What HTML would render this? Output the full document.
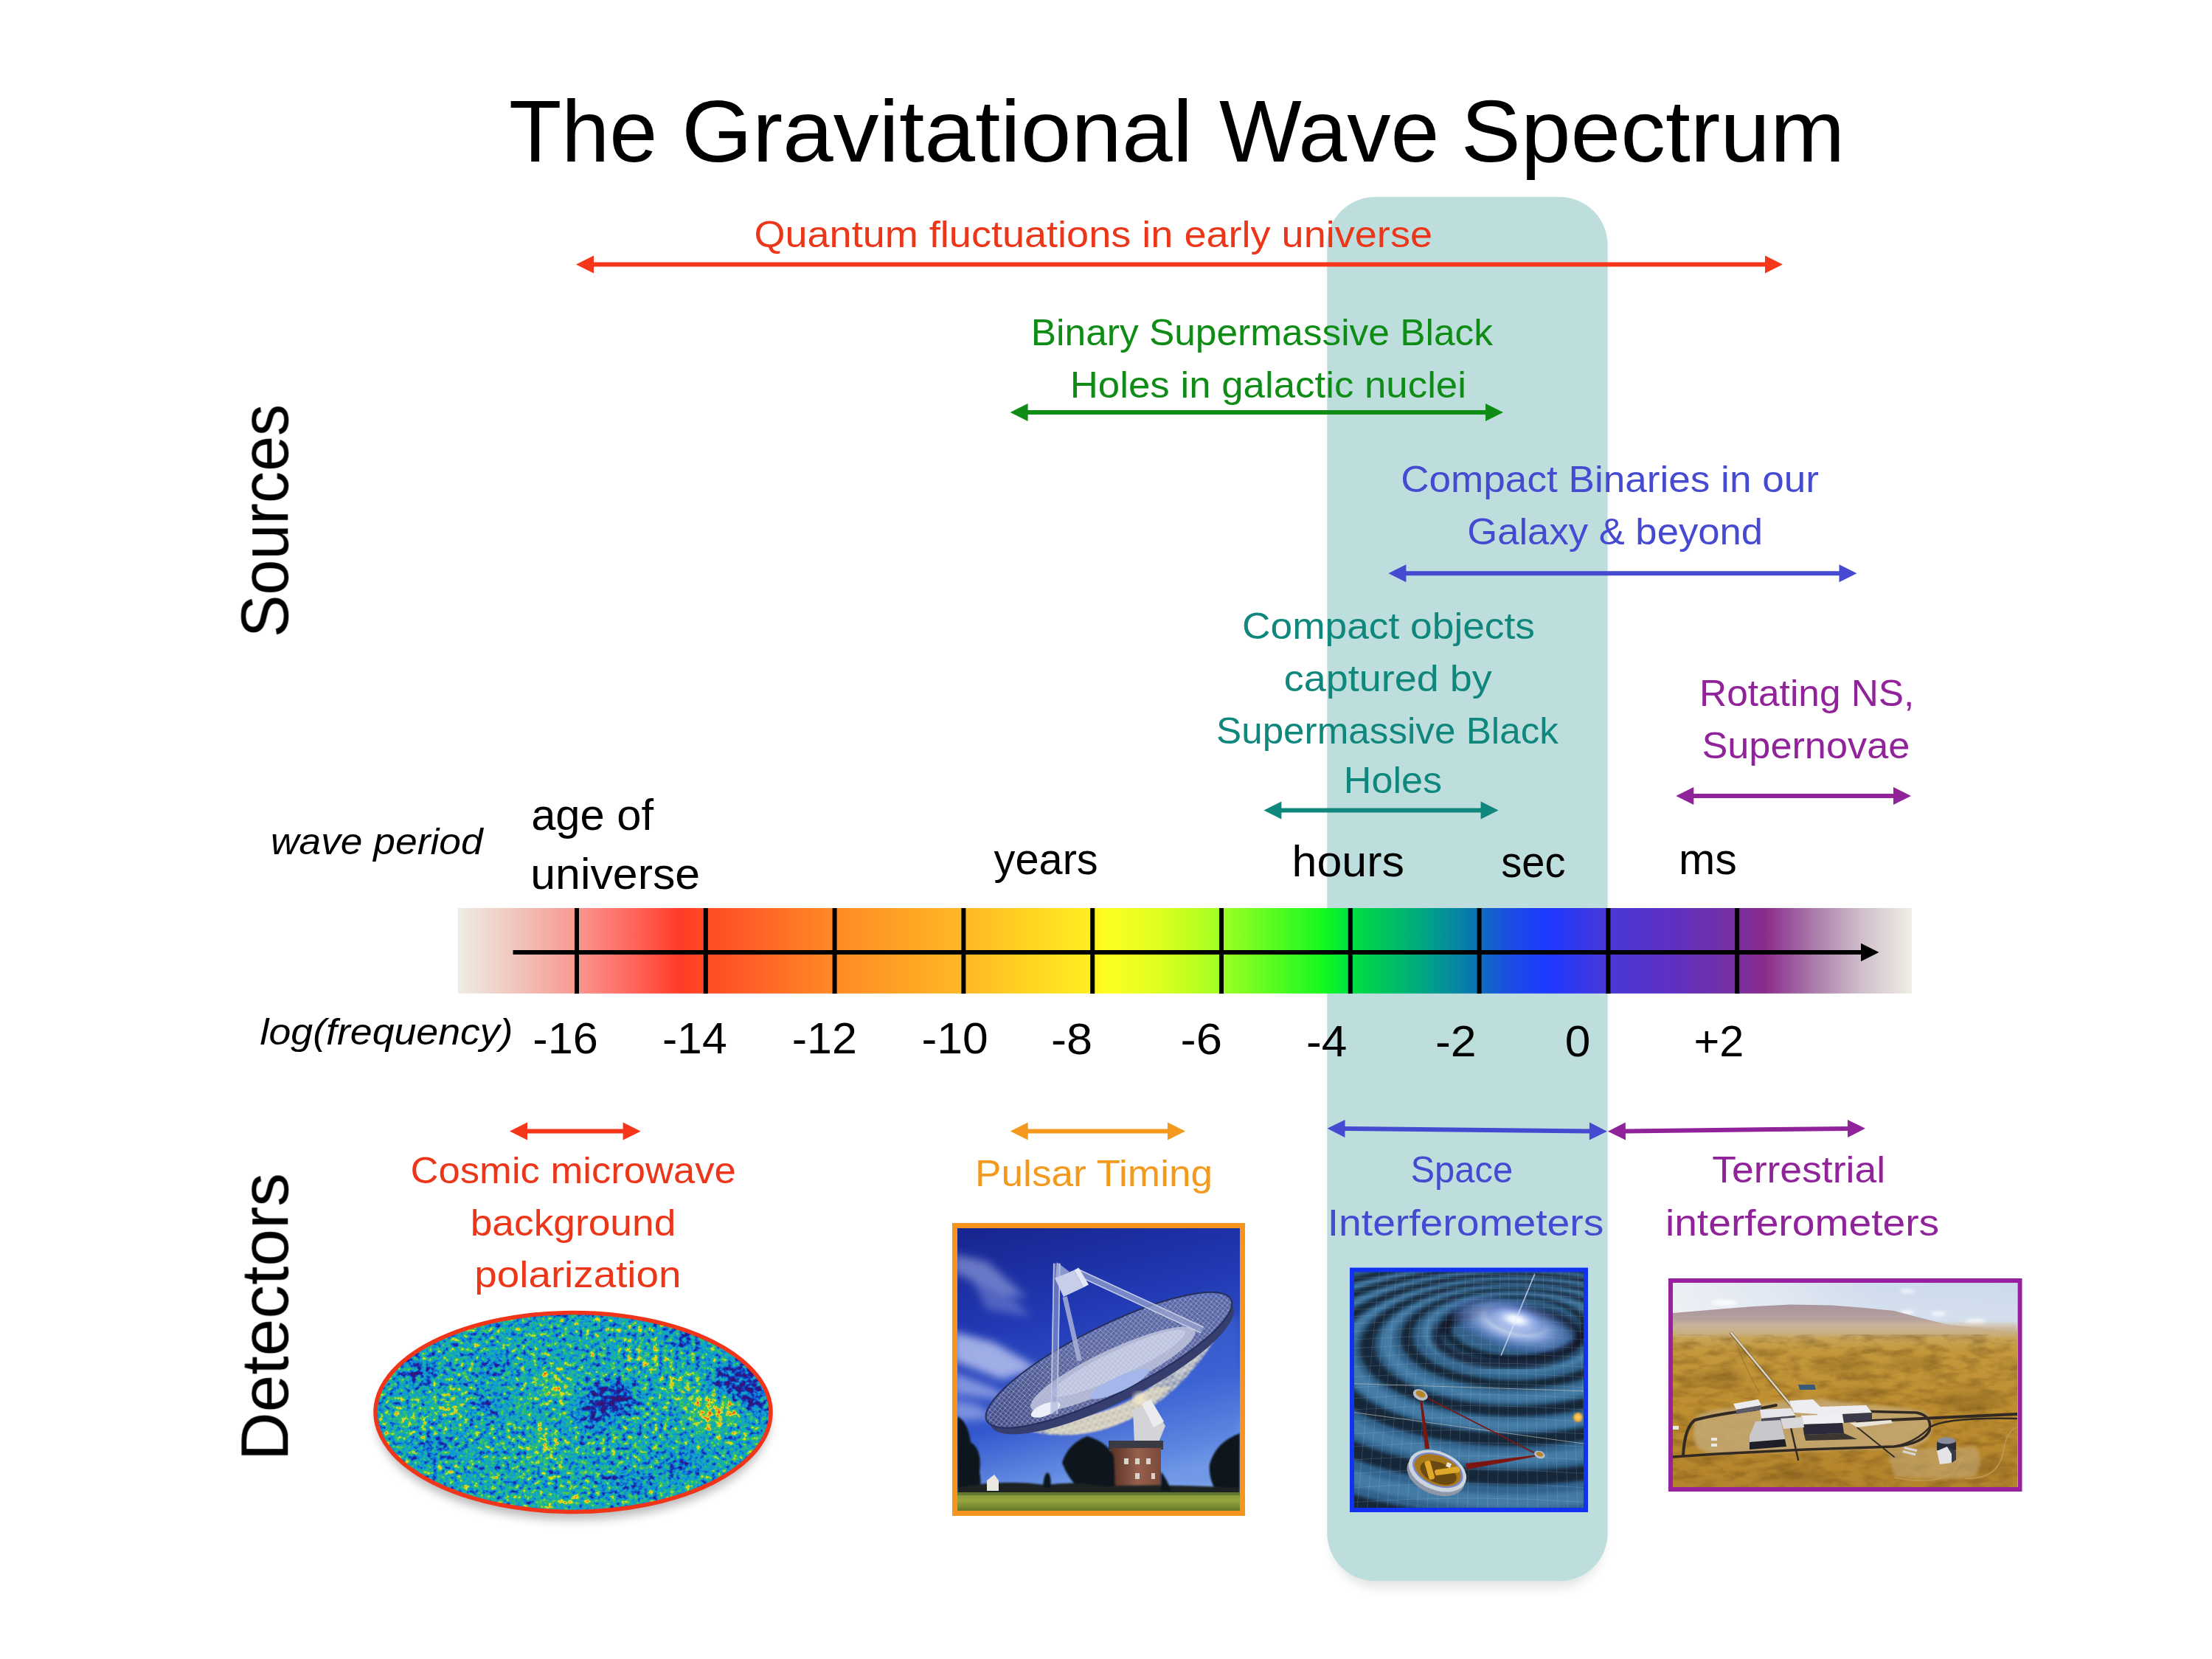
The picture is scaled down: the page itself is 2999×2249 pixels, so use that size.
<!DOCTYPE html>
<html>
<head>
<meta charset="utf-8">
<title>The Gravitational Wave Spectrum</title>
<style>
html,body{margin:0;padding:0;background:#fff;}
body{width:2999px;height:2249px;overflow:hidden;font-family:"Liberation Sans",sans-serif;}
svg{display:block;position:absolute;left:0;top:0;}
text{font-family:"Liberation Sans",sans-serif;white-space:pre;}
</style>
</head>
<body>
<svg width="2999" height="2249" viewBox="0 0 2999 2249">
<defs>
<linearGradient id="spec" x1="621" x2="2591" y1="0" y2="0" gradientUnits="userSpaceOnUse">
<stop offset="0" stop-color="#EEEDE4"/>
<stop offset="0.0406" stop-color="#F0C4BC"/>
<stop offset="0.0817" stop-color="#F89890"/>
<stop offset="0.1162" stop-color="#FF6A62"/>
<stop offset="0.1533" stop-color="#FF3B25"/>
<stop offset="0.1706" stop-color="#FF4A25"/>
<stop offset="0.2589" stop-color="#FF8A25"/>
<stop offset="0.3477" stop-color="#FFB825"/>
<stop offset="0.4365" stop-color="#FFF020"/>
<stop offset="0.4462" stop-color="#FFFF20"/>
<stop offset="0.4868" stop-color="#D8FF20"/>
<stop offset="0.5249" stop-color="#A0FF22"/>
<stop offset="0.5970" stop-color="#10F820"/>
<stop offset="0.6137" stop-color="#00E040"/>
<stop offset="0.6624" stop-color="#00A880"/>
<stop offset="0.6975" stop-color="#0878B0"/>
<stop offset="0.7208" stop-color="#1A50E0"/>
<stop offset="0.7513" stop-color="#1E38FF"/>
<stop offset="0.7911" stop-color="#4838D8"/>
<stop offset="0.8381" stop-color="#6030C0"/>
<stop offset="0.8801" stop-color="#7830A0"/>
<stop offset="0.8988" stop-color="#8A2A8C"/>
<stop offset="0.9315" stop-color="#A878A8"/>
<stop offset="0.9665" stop-color="#D0C0CC"/>
<stop offset="1" stop-color="#EEEDE4"/>
</linearGradient>
<filter id="soft" x="-10%" y="-10%" width="120%" height="120%"><feGaussianBlur stdDeviation="7"/></filter>
</defs>
<!-- highlighted band -->
<rect x="1805" y="280" width="369" height="1873" rx="62" ry="62" fill="#4a5a58" opacity="0.15" filter="url(#soft)"/>
<rect x="1799.3" y="267" width="380.3" height="1876.3" rx="65" ry="65" fill="#BDDEDC"/>
<!-- spectrum bar -->
<rect x="621" y="1231" width="1970.8" height="115.8" fill="url(#spec)"/>
<g fill="#000">
<rect x="779" y="1231" width="6" height="116"/>
<rect x="953.8" y="1231" width="6" height="116"/>
<rect x="1128.6" y="1231" width="6" height="116"/>
<rect x="1303.4" y="1231" width="6" height="116"/>
<rect x="1478.2" y="1231" width="6" height="116"/>
<rect x="1653" y="1231" width="6" height="116"/>
<rect x="1827.8" y="1231" width="6" height="116"/>
<rect x="2002.6" y="1231" width="6" height="116"/>
<rect x="2177.4" y="1231" width="6" height="116"/>
<rect x="2352.2" y="1231" width="6" height="116"/>
<rect x="695.5" y="1288" width="1830" height="6"/>
<polygon points="2547.5,1291 2523,1278.8 2523,1303.2"/>
</g>
<!-- CMB sky map -->
<defs>
<filter id="cmbf" x="0" y="0" width="100%" height="100%" color-interpolation-filters="sRGB">
<feTurbulence type="fractalNoise" baseFrequency="0.14 0.15" numOctaves="3" seed="11" result="n"/>
<feColorMatrix in="n" type="matrix" values="1.25 0 0 0 -0.125  1.25 0 0 0 -0.125  1.25 0 0 0 -0.125  0 0 0 0 1" result="g"/>
<feGaussianBlur in="SourceGraphic" stdDeviation="10" result="sb"/>
<feComposite in="g" in2="sb" operator="arithmetic" k1="0" k2="0.9" k3="1.15" k4="-0.525" result="m"/>
<feComponentTransfer in="m" result="c">
<feFuncR type="table" tableValues="0.22 0.16 0.08 0.06 0.06 0.08 0.12 0.30 0.90 0.95 0.90"/>
<feFuncG type="table" tableValues="0.08 0.10 0.20 0.40 0.58 0.66 0.72 0.78 0.90 0.65 0.30"/>
<feFuncB type="table" tableValues="0.45 0.55 0.70 0.82 0.84 0.76 0.50 0.35 0.15 0.12 0.10"/>
<feFuncA type="linear" slope="0" intercept="1"/>
</feComponentTransfer>
</filter>
<clipPath id="cmbclip"><ellipse cx="777" cy="1914.5" rx="268" ry="135"/></clipPath>
<filter id="cmbsh" x="-20%" y="-20%" width="140%" height="150%"><feGaussianBlur stdDeviation="7"/></filter>
</defs>
<ellipse cx="777" cy="1926" rx="266" ry="134" fill="#000" opacity="0.28" filter="url(#cmbsh)"/>
<g clip-path="url(#cmbclip)">
<g filter="url(#cmbf)">
<rect x="500" y="1770" width="556" height="290" fill="#808080"/>
<!-- large-scale cold (dark) and warm (light) regions -->
<ellipse cx="827" cy="1897" rx="34" ry="22" fill="#303030"/>
<ellipse cx="800" cy="1925" rx="20" ry="14" fill="#484848"/>
<ellipse cx="1000" cy="1872" rx="34" ry="22" fill="#3a3a3a"/>
<ellipse cx="1020" cy="1896" rx="16" ry="20" fill="#303030"/>
<ellipse cx="568" cy="1860" rx="24" ry="14" fill="#404040"/>
<ellipse cx="668" cy="1852" rx="18" ry="12" fill="#484848"/>
<ellipse cx="660" cy="1905" rx="20" ry="14" fill="#505050"/>
<ellipse cx="930" cy="1815" rx="30" ry="10" fill="#484848"/>
<ellipse cx="925" cy="1985" rx="28" ry="12" fill="#4c4c4c"/>
<ellipse cx="850" cy="2010" rx="40" ry="12" fill="#585858"/>
<ellipse cx="590" cy="1965" rx="30" ry="12" fill="#585858"/>
<ellipse cx="968" cy="1913" rx="34" ry="22" fill="#b8b8b8"/>
<ellipse cx="920" cy="1880" rx="18" ry="12" fill="#b0b0b0"/>
<ellipse cx="750" cy="1880" rx="22" ry="22" fill="#a4a4a4"/>
<ellipse cx="610" cy="1905" rx="22" ry="14" fill="#a8a8a8"/>
<ellipse cx="548" cy="1925" rx="18" ry="14" fill="#a4a4a4"/>
<ellipse cx="740" cy="1960" rx="22" ry="20" fill="#a0a0a0"/>
<ellipse cx="880" cy="1840" rx="24" ry="12" fill="#a0a0a0"/>
<ellipse cx="760" cy="2035" rx="40" ry="8" fill="#a0a0a0"/>
</g>
</g>
<ellipse cx="777" cy="1914.5" rx="268" ry="135" fill="none" stroke="#F0351A" stroke-width="5.5"/>
<!-- Radio telescope photo (Pulsar timing) -->
<defs>
<linearGradient id="dsky" x1="0" y1="0" x2="0.25" y2="1">
<stop offset="0" stop-color="#18248E"/>
<stop offset="0.35" stop-color="#2038B2"/>
<stop offset="0.7" stop-color="#3458CE"/>
<stop offset="0.92" stop-color="#6890E4"/>
<stop offset="1" stop-color="#86ACEC"/>
</linearGradient>
<linearGradient id="dgrass" x1="0" y1="0" x2="0" y2="1">
<stop offset="0" stop-color="#7E9238"/>
<stop offset="0.45" stop-color="#98A63E"/>
<stop offset="1" stop-color="#66782A"/>
</linearGradient>
<linearGradient id="dbrick" x1="0" y1="0" x2="1" y2="0">
<stop offset="0" stop-color="#5A3228"/>
<stop offset="0.55" stop-color="#96604C"/>
<stop offset="1" stop-color="#7A4A3A"/>
</linearGradient>
<linearGradient id="dmesh" x1="0" y1="0" x2="1" y2="0">
<stop offset="0" stop-color="#454F88"/>
<stop offset="0.45" stop-color="#6470A8"/>
<stop offset="1" stop-color="#5E6CAC"/>
</linearGradient>
<pattern id="dlat" width="7" height="7" patternUnits="userSpaceOnUse" patternTransform="rotate(20)"><path d="M0 0L7 7M7 0L0 7" stroke="#B4BCDC" stroke-width="0.9" opacity="0.75"/></pattern>
<pattern id="dlat2" width="9" height="9" patternUnits="userSpaceOnUse" patternTransform="rotate(-15)"><path d="M0 0L9 9M9 0L0 9M0 4.500L9 4.500" stroke="#F0ECDC" stroke-width="1.1" opacity="0.85"/></pattern>
<pattern id="dlat3" width="5" height="5" patternUnits="userSpaceOnUse" patternTransform="rotate(-25)"><path d="M0 0L0 5M0 0L5 0" stroke="#8890B4" stroke-width="0.7" opacity="0.6"/></pattern>
<filter id="db3"><feGaussianBlur stdDeviation="3"/></filter>
<filter id="db6"><feGaussianBlur stdDeviation="6"/></filter>
<filter id="db1"><feGaussianBlur stdDeviation="0.8"/></filter>
<clipPath id="dclip"><rect x="0" y="0" width="383" height="383"/></clipPath>
</defs>
<svg x="1298" y="1665" width="383" height="383" viewBox="0 0 383 383" overflow="hidden">
<g clip-path="url(#dclip)">
<rect width="383" height="383" fill="url(#dsky)"/>
<!-- right side a little lighter -->
<rect x="250" y="120" width="133" height="230" fill="#4C74DC" opacity="0.35" filter="url(#db6)"/>
<!-- wispy clouds -->
<g filter="url(#db6)" fill="#C8D2F4">
<path d="M-5 35 L40 45 L95 95 L60 88 L-5 60Z" opacity="0.45"/>
<path d="M-5 140 L50 155 L110 190 L60 205 L-5 180Z" opacity="0.75"/>
<path d="M-5 195 L45 215 L80 235 L-5 225Z" opacity="0.55"/>
<path d="M-5 232 L30 240 L50 258 L-5 262Z" opacity="0.5"/>
<path d="M20 70 L70 90 L100 120 L40 110Z" opacity="0.3"/>
</g>
<!-- support truss under dish -->
<g filter="url(#db1)">
<path d="M72 268 Q150 296 228 262 Q310 226 366 122 L356 112 Q300 200 222 240 Q150 268 82 262Z" fill="#8C94AE" opacity="0.9"/>
<path d="M118 276 Q172 288 226 262 Q262 244 290 214 L262 216 Q216 250 132 264Z" fill="#CFC8B4" opacity="0.85"/>
<path d="M300 204 Q340 168 364 124 L358 118 Q330 166 292 200Z" fill="#B8BCC8" opacity="0.7"/>
<path d="M72 268 Q150 296 228 262 Q310 226 366 122 L356 112 Q300 200 222 240 Q150 268 82 262Z" fill="url(#dlat2)"/>
</g>
<!-- dish -->
<g transform="translate(209.5 187) rotate(-26.4)">
<ellipse cx="0" cy="0" rx="183" ry="49" fill="#363E6E"/>
</g>
<g transform="translate(205.4 178.8) rotate(-26.4)">
<ellipse cx="0" cy="0" rx="184.8" ry="46" fill="url(#dmesh)" opacity="0.86"/>
<ellipse cx="0" cy="0" rx="184.8" ry="46" fill="url(#dlat)"/>
<ellipse cx="0" cy="0" rx="184.8" ry="46" fill="none" stroke="#262E5C" stroke-width="2"/>
</g>
<g transform="translate(210.8 191) rotate(-25.3)">
<ellipse cx="0" cy="0" rx="123" ry="26" fill="#B6BCD8"/>
<ellipse cx="10" cy="-4" rx="100" ry="17" fill="#C8CEE6"/>
<ellipse cx="0" cy="0" rx="123" ry="26" fill="url(#dlat3)"/>
</g>
<g transform="translate(220 211) rotate(-25)"><ellipse cx="0" cy="0" rx="44" ry="10" fill="#A4B6EA"/></g>
<g transform="translate(119.5 246) rotate(-22)"><ellipse cx="0" cy="0" rx="21" ry="8" fill="#ECEEF8"/></g>
<circle cx="247" cy="231" r="9" fill="#F4E8C8" opacity="0.85" filter="url(#db3)"/>
<!-- feed legs -->
<g stroke-linecap="butt" fill="none">
<line x1="134.9" y1="47.7" x2="131.2" y2="252" stroke="#9AA6D0" stroke-width="10" opacity="0.55"/>
<line x1="130.9" y1="47.7" x2="127.200" y2="252" stroke="#C4CCE8" stroke-width="1.6" opacity="0.9"/>
<line x1="138.9" y1="47.7" x2="135.200" y2="252" stroke="#C4CCE8" stroke-width="1.6" opacity="0.9"/>
<line x1="145.7" y1="92.9" x2="165.6" y2="179.7" stroke="#A8B2D8" stroke-width="6.5" opacity="0.85"/>
<line x1="163.8" y1="60.3" x2="332" y2="138" stroke="#9CA8D2" stroke-width="9" opacity="0.7"/>
<line x1="165.600" y1="56.500" x2="334" y2="134.200" stroke="#CDD4EC" stroke-width="1.6" opacity="0.9"/>
<line x1="162" y1="64.100" x2="330" y2="141.800" stroke="#CDD4EC" stroke-width="1.6" opacity="0.9"/>
</g>
<!-- focus cabin -->
<polygon points="132,67.5 158.4,56.7 171,80.2 143.9,92.9" fill="#C6CEE8"/>
<polygon points="158.4,56.7 164.500,53.500 178,76.500 171,80.2" fill="#E4E8F4"/>
<polygon points="134.9,46 133,68 152,59" fill="#AEB8DC" opacity="0.75"/>
<!-- tower -->
<polygon points="238,246 262,236 282,268 272,292 240,292" fill="#D4D4D8"/>
<polygon points="250,238 262,232 280,262 266,270" fill="#ECECEE"/>
<rect x="205" y="288" width="74" height="12" fill="#3A3A44"/>
<rect x="208" y="298" width="68" height="58" fill="url(#dbrick)"/>
<g fill="#D8D4CC"><rect x="226" y="312" width="6" height="8"/><rect x="241" y="312" width="6" height="8"/><rect x="256" y="312" width="6" height="8"/><rect x="241" y="332" width="6" height="8"/><rect x="263" y="332" width="5" height="8"/></g>
<!-- trees -->
<g fill="#0E161A" filter="url(#db1)">
<path d="M0 255 Q14 262 18 290 Q34 300 30 330 Q34 350 28 360 L0 360Z"/>
<path d="M142 318 Q150 292 176 282 Q204 290 212 310 L214 356 L168 356 Q150 340 142 318Z"/>
<path d="M342 320 Q350 290 383 278 L383 358 L352 358 Q340 340 342 318Z"/>
<path d="M0 352 Q60 340 120 348 Q160 342 200 350 Q280 346 383 352 L383 362 L0 362Z" fill="#1A2420"/>
<path d="M116 350 Q118 328 124 332 Q128 340 126 352Z"/>
<path d="M276 330 Q284 340 290 356 L276 356Z"/>
</g>
<polygon points="40,342 50,334 56,342 56,356 40,356" fill="#E8E8E0"/>
<!-- grass -->
<rect x="0" y="358" width="383" height="25" fill="url(#dgrass)"/>
<rect x="0" y="358" width="383" height="4" fill="#50642A" opacity="0.6"/>
</g>
</svg>
<rect x="1294.5" y="1661.5" width="390" height="390" fill="none" stroke="#F7941D" stroke-width="7"/>
<!-- Space interferometer illustration -->
<defs>
<radialGradient id="lglow" cx="0.5" cy="0.5" r="0.5"><stop offset="0" stop-color="#FFFFFF"/><stop offset="0.2" stop-color="#EEF4FF" stop-opacity="0.95"/><stop offset="0.5" stop-color="#9CB4EC" stop-opacity="0.8"/><stop offset="0.82" stop-color="#5C7CCC" stop-opacity="0.4"/><stop offset="1" stop-color="#4060B0" stop-opacity="0"/></radialGradient>
<radialGradient id="lsun" cx="0.5" cy="0.5" r="0.5"><stop offset="0" stop-color="#FFD870"/><stop offset="0.6" stop-color="#F0B040"/><stop offset="1" stop-color="#D09030" stop-opacity="0.3"/></radialGradient>
<linearGradient id="lbase" x1="0" y1="0" x2="0" y2="1"><stop offset="0" stop-color="#2F5B80"/><stop offset="0.5" stop-color="#356890"/><stop offset="1" stop-color="#31628C"/></linearGradient>
<filter id="lb2"><feGaussianBlur stdDeviation="2.4"/></filter>
<filter id="lb4"><feGaussianBlur stdDeviation="3.6"/></filter>
<filter id="lb4d"><feGaussianBlur stdDeviation="3.4 2.2"/></filter>
<filter id="lb1"><feGaussianBlur stdDeviation="0.7"/></filter>
<clipPath id="lclip"><rect x="0" y="0" width="311" height="320"/></clipPath>
</defs>
<svg x="1836" y="1724" width="311" height="320" viewBox="0 0 311 320" overflow="hidden">
<g clip-path="url(#lclip)">
<rect width="311" height="320" fill="url(#lbase)"/>
<g fill="#4C84AE" fill-rule="evenodd" opacity="0.75" filter="url(#lb2)"><path d="M91.9 83.0A127.1 55.3 0 1 0 346.1 83.0A127.1 55.3 0 1 0 91.9 83.0ZM103.5 80.9A115.5 50.2 0 1 0 334.5 80.9A115.5 50.2 0 1 0 103.5 80.9ZM36.7 96.4A182.3 79.3 0 1 0 401.3 96.4A182.3 79.3 0 1 0 36.7 96.4ZM51.7 93.0A167.3 72.7 0 1 0 386.3 93.0A167.3 72.7 0 1 0 51.7 93.0ZM-19.6 110.7A238.6 103.8 0 1 0 457.6 110.7A238.6 103.8 0 1 0 -19.6 110.7ZM-1.2 106.2A220.2 95.7 0 1 0 439.2 106.2A220.2 95.7 0 1 0 -1.2 106.2ZM-84.6 128.9A303.6 132.0 0 1 0 522.6 128.9A303.6 132.0 0 1 0 -84.6 128.9ZM-62.8 123.0A281.8 122.5 0 1 0 500.8 123.0A281.8 122.5 0 1 0 -62.8 123.0ZM-163.9 153.2A382.9 166.5 0 1 0 601.9 153.2A382.9 166.5 0 1 0 -163.9 153.2ZM-138.7 146.2A357.7 155.5 0 1 0 576.7 146.2A357.7 155.5 0 1 0 -138.7 146.2Z"/></g>
<g fill="#0A1422" fill-rule="evenodd" opacity="0.78" filter="url(#lb4d)"><path d="M118.3 76.9A100.7 43.8 0 1 0 319.7 76.9A100.7 43.8 0 1 0 118.3 76.9ZM131.1 74.5A87.9 38.2 0 1 0 306.9 74.5A87.9 38.2 0 1 0 131.1 74.5ZM62.3 90.1A156.7 68.1 0 1 0 375.7 90.1A156.7 68.1 0 1 0 62.3 90.1ZM79.0 86.3A140.0 60.9 0 1 0 359.0 86.3A140.0 60.9 0 1 0 79.0 86.3ZM7.5 103.8A211.5 91.9 0 1 0 430.5 103.8A211.5 91.9 0 1 0 7.5 103.8ZM28.0 98.6A191.0 83.0 0 1 0 410.0 98.6A191.0 83.0 0 1 0 28.0 98.6ZM-50.7 118.9A269.7 117.3 0 1 0 488.7 118.9A269.7 117.3 0 1 0 -50.7 118.9ZM-26.5 112.5A245.5 106.7 0 1 0 464.5 112.5A245.5 106.7 0 1 0 -26.5 112.5ZM-122.8 140.1A341.8 148.6 0 1 0 560.8 140.1A341.8 148.6 0 1 0 -122.8 140.1ZM-94.7 132.3A313.7 136.4 0 1 0 532.7 132.3A313.7 136.4 0 1 0 -94.7 132.3ZM-209.8 167.8A428.8 186.4 0 1 0 647.8 167.8A428.8 186.4 0 1 0 -209.8 167.8ZM-177.9 158.6A396.9 172.6 0 1 0 615.9 158.6A396.9 172.6 0 1 0 -177.9 158.6Z"/></g>
<ellipse cx="209" cy="88.7" rx="96" ry="36" fill="none" stroke="#08101C" stroke-width="14" opacity="0.7" filter="url(#lb4)"/>
<g fill="none" stroke="#B8D0E4" stroke-width="0.7" opacity="0.26"><path d="M34.1 0 Q19.0 160 4.0 320"/><path d="M45.8 0 Q31.7 160 17.6 320"/><path d="M57.5 0 Q44.3 160 31.2 320"/><path d="M69.2 0 Q57.0 160 44.8 320"/><path d="M80.9 0 Q69.6 160 58.4 320"/><path d="M92.6 0 Q82.3 160 72.0 320"/><path d="M104.3 0 Q94.9 160 85.6 320"/><path d="M116.0 0 Q107.6 160 99.2 320"/><path d="M127.7 0 Q120.2 160 112.8 320"/><path d="M139.4 0 Q132.9 160 126.4 320"/><path d="M151.1 0 Q145.5 160 140.0 320"/><path d="M162.8 0 Q158.2 160 153.6 320"/><path d="M174.5 0 Q170.8 160 167.2 320"/><path d="M186.1 0 Q183.5 160 180.8 320"/><path d="M197.8 0 Q196.1 160 194.4 320"/><path d="M209.5 0 Q208.8 160 208.0 320"/><path d="M221.2 0 Q221.4 160 221.6 320"/><path d="M232.9 0 Q234.1 160 235.2 320"/><path d="M244.6 0 Q246.7 160 248.8 320"/><path d="M256.3 0 Q259.4 160 262.4 320"/><path d="M268.0 0 Q272.0 160 276.0 320"/><path d="M279.7 0 Q284.7 160 289.6 320"/><path d="M291.4 0 Q297.3 160 303.2 320"/><path d="M303.1 0 Q310.0 160 316.8 320"/><path d="M0 9.0 Q155 -2.0 311 9.0"/><path d="M0 14.5 Q155 3.5 311 14.5"/><path d="M0 20.6 Q155 9.6 311 20.6"/><path d="M0 27.4 Q155 16.4 311 27.4"/><path d="M0 34.8 Q155 23.8 311 34.8"/><path d="M0 42.8 Q155 31.8 311 42.8"/><path d="M0 51.4 Q155 40.4 311 51.4"/><path d="M0 60.6 Q155 49.6 311 60.6"/><path d="M0 70.4 Q155 59.4 311 70.4"/><path d="M0 80.9 Q155 69.9 311 80.9"/><path d="M0 92.0 Q155 81.0 311 92.0"/><path d="M0 103.7 Q155 92.7 311 103.7"/><path d="M0 116.0 Q155 105.0 311 116.0"/><path d="M0 129.0 Q155 118.0 311 129.0"/><path d="M0 142.6 Q155 131.6 311 142.6"/><path d="M0 156.8 Q155 145.8 311 156.8"/><path d="M0 171.6 Q155 160.6 311 171.6"/><path d="M0 187.0 Q155 176.0 311 187.0"/><path d="M0 203.0 Q155 192.0 311 203.0"/><path d="M0 219.7 Q155 208.7 311 219.7"/><path d="M0 237.0 Q155 226.0 311 237.0"/><path d="M0 254.9 Q155 243.9 311 254.9"/><path d="M0 273.4 Q155 262.4 311 273.4"/><path d="M0 292.6 Q155 281.6 311 292.6"/><path d="M0 312.4 Q155 301.4 311 312.4"/></g>
<g transform="translate(219 64.7) rotate(14)"><ellipse cx="-2" cy="8" rx="92" ry="36" fill="url(#lglow)"/><ellipse cx="0" cy="0" rx="44" ry="20" fill="url(#lglow)"/></g>
<line x1="244.7" y1="3.3" x2="199" y2="113.8" stroke="#DCE8F8" stroke-width="1.6" opacity="0.75" filter="url(#lb1)"/>
<g stroke="#C8C8C0" stroke-width="0.9" opacity="0.7"><line x1="0" y1="151.7" x2="311" y2="161.7"/><line x1="0" y1="190.7" x2="311" y2="233"/></g>
<g fill="#7C1612"><polygon points="89,171 91.5,171 102,240 96,240"/><polygon points="99,170 100,172.500 246,247.500 247,246"/><polygon points="151,260 153,268 246,250.500 245.500,248.500"/></g>
<g><ellipse cx="89.7" cy="166.9" rx="10.5" ry="7" fill="#B8C0CC" transform="rotate(25 89.7 166.9)"/><ellipse cx="90.2" cy="165.9" rx="7" ry="4.2" fill="#B8862A" transform="rotate(25 90.2 165.9)"/></g>
<g><ellipse cx="251.4" cy="248" rx="7.5" ry="5" fill="#B8C0CC" transform="rotate(20 251.4 248)"/><ellipse cx="251.6" cy="247.4" rx="5" ry="3" fill="#B8862A" transform="rotate(20 251.6 247.4)"/></g>
<g transform="translate(113 270) rotate(22)"><ellipse cx="0" cy="6" rx="41" ry="26" fill="#8E98A8"/><ellipse cx="0" cy="0" rx="41" ry="26" fill="#CCD4DE"/><ellipse cx="0" cy="-1" rx="36" ry="21.5" fill="#7888C8"/><ellipse cx="0" cy="-1" rx="33" ry="19.5" fill="#A87818"/><ellipse cx="2" cy="2" rx="26" ry="14" fill="#6A4A10"/><rect x="-14" y="-17" width="8" height="26" rx="3" fill="#E0A828" transform="rotate(-38)"/><rect x="-4" y="-2" width="34" height="8" rx="3" fill="#E0A828" transform="rotate(-30)"/><rect x="8" y="-16" width="6" height="6" fill="#E8E8E0"/></g>
<circle cx="303.4" cy="197.4" r="7.5" fill="url(#lsun)"/>
</g></svg>
<rect x="1833" y="1721.5" width="317" height="325.5" fill="none" stroke="#1232F2" stroke-width="6"/>
<!-- Terrestrial interferometer aerial photo -->
<defs>
<linearGradient id="gsky" x1="0" y1="0" x2="0" y2="1">
<stop offset="0" stop-color="#CCDAEC"/>
<stop offset="0.5" stop-color="#E2E8F0"/>
<stop offset="1" stop-color="#ECEAE8"/>
</linearGradient>
<linearGradient id="gmtn" x1="0" y1="0" x2="0" y2="1">
<stop offset="0" stop-color="#A8949C"/>
<stop offset="0.5" stop-color="#B8A49C"/>
<stop offset="1" stop-color="#CDB694"/>
</linearGradient>
<linearGradient id="gdes" x1="0" y1="0" x2="0" y2="1">
<stop offset="0" stop-color="#CCAC66"/>
<stop offset="0.12" stop-color="#C4983C"/>
<stop offset="0.5" stop-color="#BE8E30"/>
<stop offset="1" stop-color="#B4842C"/>
</linearGradient>
<linearGradient id="ghaze" x1="0" y1="0" x2="1" y2="0"><stop offset="0" stop-color="#F4F4F6" stop-opacity="0.8"/><stop offset="0.3" stop-color="#F0F2F6" stop-opacity="0.55"/><stop offset="0.6" stop-color="#E8ECF4" stop-opacity="0.1"/><stop offset="1" stop-color="#E8ECF4" stop-opacity="0"/></linearGradient>
<filter id="gb2"><feGaussianBlur stdDeviation="2"/></filter>
<filter id="gb5"><feGaussianBlur stdDeviation="5"/></filter>
<filter id="gb08"><feGaussianBlur stdDeviation="0.6"/></filter>
<filter id="gnoise" x="0" y="0" width="100%" height="100%" color-interpolation-filters="sRGB">
<feTurbulence type="fractalNoise" baseFrequency="0.035 0.09" numOctaves="3" seed="5"/>
<feColorMatrix type="matrix" values="0 0 0 0 0.30  0 0 0 0 0.20  0 0 0 0 0.05  1.8 0 0 0 -0.72"/>
</filter>
<clipPath id="gclip"><rect x="0" y="0" width="467" height="277"/></clipPath>
</defs>
<svg x="2268" y="1739" width="467" height="277" viewBox="0 0 467 277" overflow="hidden">
<g clip-path="url(#gclip)">
<rect width="467" height="277" fill="url(#gsky)"/>
<rect x="0" y="0" width="467" height="60" fill="url(#ghaze)"/>
<!-- clouds -->
<g fill="#FFFFFF" opacity="0.8" filter="url(#gb2)"><ellipse cx="318" cy="11" rx="10" ry="2.5"/><ellipse cx="70" cy="27" rx="18" ry="4"/><ellipse cx="318" cy="40" rx="10" ry="3"/><ellipse cx="360" cy="42" rx="10" ry="3"/><ellipse cx="410" cy="53" rx="14" ry="4"/></g>
<!-- mountain ridge -->
<path d="M0 41 L60 36 L110 32 L160 29.5 L215 30.5 L260 34 L300 38 L330 46 L370 56 L420 62 L467 66 L467 76 L0 76Z" fill="url(#gmtn)"/>
<rect x="0" y="54" width="467" height="22" fill="#D0BCA0" opacity="0.6" filter="url(#gb2)"/>
<!-- desert -->
<rect x="0" y="66" width="467" height="211" fill="url(#gdes)"/>
<rect x="0" y="60" width="467" height="12" fill="#C8B088" opacity="0.8" filter="url(#gb2)"/>
<rect x="0" y="70" width="467" height="207" filter="url(#gnoise)" opacity="0.42"/>
<!-- darker scrub patches -->
<g fill="#7A5A1C" opacity="0.35" filter="url(#gb5)"><ellipse cx="230" cy="112" rx="40" ry="9"/><ellipse cx="330" cy="108" rx="36" ry="7"/><ellipse cx="60" cy="130" rx="40" ry="10"/><ellipse cx="400" cy="160" rx="50" ry="12"/><ellipse cx="170" cy="262" rx="40" ry="10"/><ellipse cx="430" cy="250" rx="30" ry="12"/><ellipse cx="260" cy="150" rx="30" ry="8"/></g>
<!-- cleared ground -->
<g fill="#C4A874" filter="url(#gb2)"><path d="M28 190 Q30 176 60 172 L150 160 L200 158 L330 172 Q352 176 352 196 Q350 218 320 224 L60 232 Q30 230 28 210Z" opacity="0.85"/><path d="M290 226 L410 222 Q424 240 410 262 Q360 270 300 262Z" opacity="0.6"/></g>
<!-- roads -->
<g fill="none" stroke="#332C24" stroke-linecap="round" filter="url(#gb08)">
<path d="M0 236 L60 232 L180 226 L300 222 Q340 218 348 200 Q352 180 330 176 L250 174" stroke-width="3.5"/>
<path d="M14 234 Q16 196 30 186 Q60 178 110 172 L140 166" stroke-width="4"/>
<path d="M250 188 L467 178" stroke-width="4"/>
<path d="M300 222 Q330 216 348 196 Q370 182 467 184" stroke-width="2.6"/>
<path d="M160 196 L170 240 " stroke-width="2.5"/>
<path d="M250 196 L300 236" stroke-width="2"/>
</g>
<g fill="none" stroke="#C0A060" stroke-width="1.6" opacity="0.8"><path d="M395 265 Q440 268 448 230 Q452 200 467 196"/><path d="M300 264 Q380 280 392 236"/></g>
<!-- beam tube (long arm) -->
<line x1="78" y1="67" x2="160" y2="166" stroke="#4A3C20" stroke-width="4.5" opacity="0.5"/>
<line x1="78.500" y1="67" x2="162" y2="168" stroke="#DAD4C8" stroke-width="2.6"/>
<path d="M86 82 Q100 120 118 150" fill="none" stroke="#8A6A30" stroke-width="1" opacity="0.7"/>
<!-- pond -->
<polygon points="170,138 192,138 194,145 172,145" fill="#3A5A78"/>
<!-- buildings -->
<g>
<polygon points="82,164 116,158 120,166 86,172" fill="#ECECF0"/><polygon points="86,172 120,166 120,172 86,178" fill="#5A5A68"/>
<polygon points="158,160 190,158 200,168 262,166 270,176 230,178 232,190 200,192 196,178 164,176" fill="#EEEEF2"/>
<polygon points="118,172 160,170 166,180 120,184" fill="#E4E4EA"/><polygon points="120,184 166,180 166,186 120,190" fill="#4A4A58"/>
<polygon points="174,180 228,178 230,190 176,192" fill="#F0F0F4"/>
<polygon points="176,192 230,190 232,204 178,206" fill="#2A2A3A"/>
<polygon points="230,178 270,176 270,186 232,190" fill="#3A3A4A"/>
<polygon points="112,188 146,186 152,212 104,216 104,208" fill="#C8C8CC"/>
<polygon points="104,216 152,212 154,222 104,226" fill="#1E1E28"/>
<polygon points="146,184 176,182 178,196 150,198" fill="#D8D8DC"/>
<polygon points="178,206 232,204 250,212 180,214" fill="#1A1A24" opacity="0.8"/>
<polygon points="240,190 296,186 298,190 250,196" fill="#E8E4D8"/>
</g>
<!-- tank and small building -->
<ellipse cx="371" cy="217" rx="13" ry="6" fill="#4A4E5C"/><rect x="358" y="217" width="26" height="10" fill="#2A2C38"/><ellipse cx="371" cy="214" rx="12" ry="4.5" fill="#8A8E9C"/>
<polygon points="358,228 372,222 378,232 378,244 362,246" fill="#E4E4E8"/><polygon points="372,222 384,228 384,240 378,244 378,232" fill="#3A3A48"/>
<g fill="#D8D8D8"><rect x="314" y="222" width="18" height="3" transform="rotate(14 314 222)"/><rect x="312" y="227" width="18" height="3" transform="rotate(14 312 227)"/></g>
<g fill="#E8E8E8"><rect x="52" y="210" width="8" height="4"/><rect x="52" y="218" width="8" height="4"/><rect x="0" y="194" width="8" height="5"/></g>
</g>
</svg>
<rect x="2265" y="1736" width="473.500" height="283" fill="none" stroke="#97219E" stroke-width="6"/>
<g id="arrows">
<polygon points="781.0,358.5 805.0,346.5 805.0,355.5 2393.0,355.5 2393.0,346.5 2417.0,358.5 2393.0,370.5 2393.0,361.5 805.0,361.5 805.0,370.5" fill="#F5361A"/>
<polygon points="1369.6,559.0 1393.6,547.0 1393.6,556.0 2014.0,556.0 2014.0,547.0 2038.0,559.0 2014.0,571.0 2014.0,562.0 1393.6,562.0 1393.6,571.0" fill="#0E8C16"/>
<polygon points="1882.4,777.3 1906.4,765.3 1906.4,774.3 2493.5,774.3 2493.5,765.3 2517.5,777.3 2493.5,789.3 2493.5,780.3 1906.4,780.3 1906.4,789.3" fill="#454AD1"/>
<polygon points="1713.4,1098.5 1737.4,1086.5 1737.4,1095.5 2007.6,1095.5 2007.6,1086.5 2031.6,1098.5 2007.6,1110.5 2007.6,1101.5 1737.4,1101.5 1737.4,1110.5" fill="#10877C"/>
<polygon points="2272.3,1079.0 2296.3,1067.0 2296.3,1076.0 2567.0,1076.0 2567.0,1067.0 2591.0,1079.0 2567.0,1091.0 2567.0,1082.0 2296.3,1082.0 2296.3,1091.0" fill="#90239A"/>
<polygon points="691.0,1533.6 715.0,1521.6 715.0,1530.6 844.6,1530.6 844.6,1521.6 868.6,1533.6 844.6,1545.6 844.6,1536.6 715.0,1536.6 715.0,1545.6" fill="#F5361A"/>
<polygon points="1369.7,1533.6 1393.7,1521.6 1393.7,1530.6 1583.0,1530.6 1583.0,1521.6 1607.0,1533.6 1583.0,1545.6 1583.0,1536.6 1393.7,1536.6 1393.7,1545.6" fill="#F39A1E"/>
<polygon points="1799.5,1529.7 1823.6,1518.0 1823.5,1527.0 2154.9,1530.4 2155.0,1521.4 2178.9,1533.7 2154.8,1545.4 2154.9,1536.4 1823.5,1533.0 1823.4,1542.0" fill="#454AD1"/>
<polygon points="2179.9,1533.7 2203.8,1521.4 2203.9,1530.4 2505.0,1527.0 2504.9,1518.0 2529.0,1529.7 2505.1,1542.0 2505.0,1533.0 2203.9,1536.4 2204.0,1545.4" fill="#90239A"/>
</g>
<g id="labels" font-family="Liberation Sans, sans-serif">
<text x="689.9" y="219.0" font-size="118" fill="#000" textLength="201.3" lengthAdjust="spacingAndGlyphs">The</text>
<text x="923.9" y="219.0" font-size="118" fill="#000" textLength="693.3" lengthAdjust="spacingAndGlyphs">Gravitational</text>
<text x="1653.0" y="219.0" font-size="118" fill="#000" textLength="298.3" lengthAdjust="spacingAndGlyphs">Wave</text>
<text x="1980.8" y="219.0" font-size="118" fill="#000" textLength="520.4" lengthAdjust="spacingAndGlyphs">Spectrum</text>
<text x="1022.4" y="334.6" font-size="50.5" fill="#EC361A" textLength="919.6" lengthAdjust="spacingAndGlyphs">Quantum fluctuations in early universe</text>
<text x="1397.8" y="467.5" font-size="50.5" fill="#0E8C16" textLength="626.2" lengthAdjust="spacingAndGlyphs">Binary Supermassive Black</text>
<text x="1450.7" y="538.5" font-size="50.5" fill="#0E8C16" textLength="537.3" lengthAdjust="spacingAndGlyphs">Holes in galactic nuclei</text>
<text x="1899.2" y="667.0" font-size="50.5" fill="#454AD1" textLength="566.8" lengthAdjust="spacingAndGlyphs">Compact Binaries in our</text>
<text x="1989.2" y="737.5" font-size="50.5" fill="#454AD1" textLength="400.9" lengthAdjust="spacingAndGlyphs">Galaxy &amp; beyond</text>
<text x="1684.0" y="866.3" font-size="50.5" fill="#10877C" textLength="397.0" lengthAdjust="spacingAndGlyphs">Compact objects</text>
<text x="1740.8" y="936.8" font-size="50.5" fill="#10877C" textLength="282.0" lengthAdjust="spacingAndGlyphs">captured by</text>
<text x="1649.0" y="1007.5" font-size="50.5" fill="#10877C" textLength="463.9" lengthAdjust="spacingAndGlyphs">Supermassive Black</text>
<text x="1821.8" y="1074.7" font-size="50.5" fill="#10877C" textLength="133.3" lengthAdjust="spacingAndGlyphs">Holes</text>
<text x="2304.1" y="957.2" font-size="50.5" fill="#90239A" textLength="291.3" lengthAdjust="spacingAndGlyphs">Rotating NS,</text>
<text x="2307.4" y="1028.3" font-size="50.5" fill="#90239A" textLength="281.9" lengthAdjust="spacingAndGlyphs">Supernovae</text>
<text x="367.0" y="1157.8" font-size="50.5" fill="#000" textLength="287.6" lengthAdjust="spacingAndGlyphs" font-style="italic">wave period</text>
<text x="352.6" y="1415.7" font-size="50.5" fill="#000" textLength="342.9" lengthAdjust="spacingAndGlyphs" font-style="italic">log(frequency)</text>
<text x="720.2" y="1125.2" font-size="59.5" fill="#000" textLength="165.9" lengthAdjust="spacingAndGlyphs">age of</text>
<text x="719.3" y="1204.7" font-size="59.5" fill="#000" textLength="229.8" lengthAdjust="spacingAndGlyphs">universe</text>
<text x="1347.6" y="1185.3" font-size="59.5" fill="#000" textLength="141.1" lengthAdjust="spacingAndGlyphs">years</text>
<text x="1751.6" y="1188.2" font-size="59.5" fill="#000" textLength="152.3" lengthAdjust="spacingAndGlyphs">hours</text>
<text x="2035.3" y="1189.0" font-size="59.5" fill="#000" textLength="87.2" lengthAdjust="spacingAndGlyphs">sec</text>
<text x="2275.9" y="1185.0" font-size="59.5" fill="#000" textLength="78.9" lengthAdjust="spacingAndGlyphs">ms</text>
<text x="722.3" y="1428.0" font-size="60" fill="#000" textLength="88.5" lengthAdjust="spacingAndGlyphs">-16</text>
<text x="897.9" y="1428.0" font-size="60" fill="#000" textLength="87.8" lengthAdjust="spacingAndGlyphs">-14</text>
<text x="1073.8" y="1428.0" font-size="60" fill="#000" textLength="88.2" lengthAdjust="spacingAndGlyphs">-12</text>
<text x="1249.4" y="1428.0" font-size="60" fill="#000" textLength="90.3" lengthAdjust="spacingAndGlyphs">-10</text>
<text x="1424.9" y="1429.0" font-size="60" fill="#000" textLength="56.1" lengthAdjust="spacingAndGlyphs">-8</text>
<text x="1600.6" y="1429.0" font-size="60" fill="#000" textLength="56.4" lengthAdjust="spacingAndGlyphs">-6</text>
<text x="1771.0" y="1432.0" font-size="60" fill="#000" textLength="55.4" lengthAdjust="spacingAndGlyphs">-4</text>
<text x="1945.9" y="1432.0" font-size="60" fill="#000" textLength="55.7" lengthAdjust="spacingAndGlyphs">-2</text>
<text x="2121.7" y="1432.0" font-size="60" fill="#000" textLength="34.6" lengthAdjust="spacingAndGlyphs">0</text>
<text x="2296.5" y="1432.0" font-size="60" fill="#000" textLength="67.8" lengthAdjust="spacingAndGlyphs">+2</text>
<text x="556.6" y="1604.0" font-size="50.5" fill="#EC361A" textLength="441.1" lengthAdjust="spacingAndGlyphs">Cosmic microwave</text>
<text x="637.7" y="1674.8" font-size="50.5" fill="#EC361A" textLength="278.6" lengthAdjust="spacingAndGlyphs">background</text>
<text x="643.3" y="1745.3" font-size="50.5" fill="#EC361A" textLength="280.2" lengthAdjust="spacingAndGlyphs">polarization</text>
<text x="1322.1" y="1607.5" font-size="50.5" fill="#F39A1E" textLength="322.0" lengthAdjust="spacingAndGlyphs">Pulsar Timing</text>
<text x="1912.5" y="1602.8" font-size="50.5" fill="#454AD1" textLength="138.6" lengthAdjust="spacingAndGlyphs">Space</text>
<text x="1799.7" y="1675.0" font-size="50.5" fill="#454AD1" textLength="374.7" lengthAdjust="spacingAndGlyphs">Interferometers</text>
<text x="2321.2" y="1602.8" font-size="50.5" fill="#90239A" textLength="234.9" lengthAdjust="spacingAndGlyphs">Terrestrial</text>
<text x="2257.9" y="1675.0" font-size="50.5" fill="#90239A" textLength="371.3" lengthAdjust="spacingAndGlyphs">interferometers</text>
<text transform="translate(390.3,864.1) rotate(-90)" x="0" y="0" font-size="90" fill="#000" textLength="316.2" lengthAdjust="spacingAndGlyphs">Sources</text>
<text transform="translate(390.3,1980.2) rotate(-90)" x="0" y="0" font-size="90" fill="#000" textLength="390.1" lengthAdjust="spacingAndGlyphs">Detectors</text>
</g>
</svg>
</body>
</html>
